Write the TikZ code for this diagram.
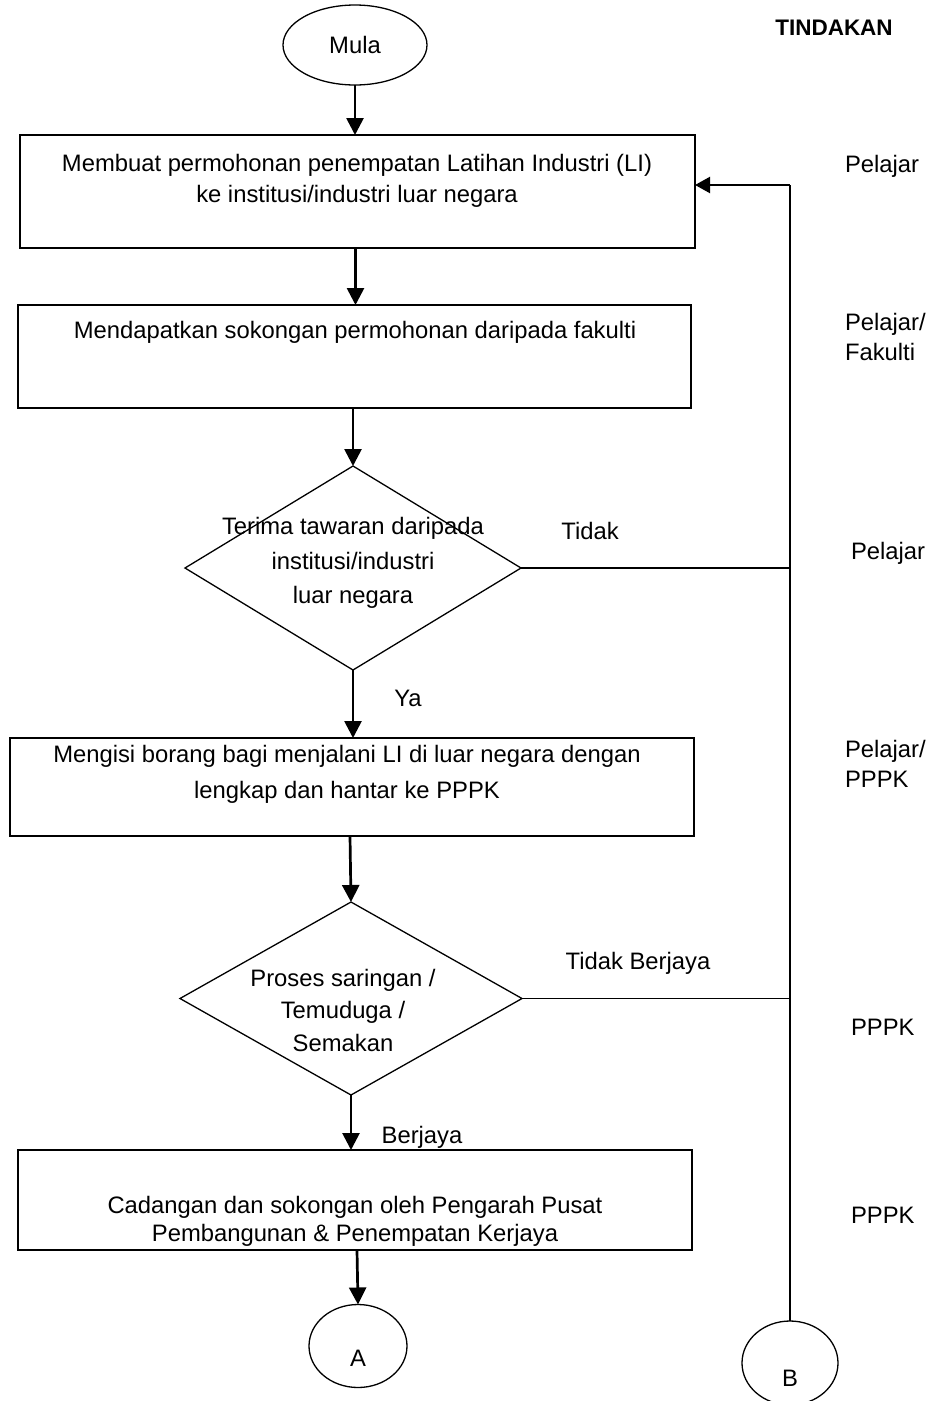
\documentclass[tikz,border=0pt]{standalone}
\usepackage{fontspec}
\setmainfont{Liberation Sans}
\usetikzlibrary{shapes.geometric,arrows.meta}
\begin{document}
\begin{tikzpicture}[x=1pt,y=-1pt,
  every node/.style={inner sep=0pt, outer sep=0pt},
  txt/.style={font=\fontsize{23.8}{31}\selectfont, align=center},
  boxnode/.style={draw, line width=1.3pt, rectangle},
  dec/.style={draw, line width=1.3pt, diamond},
  term/.style={draw, line width=1.3pt, ellipse},
  flow/.style={line width=2.7pt, -{Triangle[length=17pt,width=17pt]}},
  back/.style={line width=1.6pt},
  backarrow/.style={line width=2.2pt, -{Triangle[length=15pt,width=16pt]}}]
\useasboundingbox (0,0) rectangle (932,1401);

% terminals
\node[term, minimum width=144pt, minimum height=80pt] (mula) at (355,45) {};
\node[txt] (tmula) at (355,45) {Mula};

% boxes
\node[boxnode, minimum width=675pt, minimum height=113pt] (b1) at (357.5,191.5) {};
\node[txt] (t1) at (357,181) {Membuat permohonan penempatan Latihan Industri (LI)\\ke institusi/industri luar negara};

\node[boxnode, minimum width=673pt, minimum height=103pt] (b2) at (354.5,356.5) {};
\node[txt] (t2) at (355,332) {Mendapatkan sokongan permohonan daripada fakulti};

\node[dec, minimum width=336pt, minimum height=204pt] (d1) at (353,568) {};
\node[txt, font=\fontsize{23.8}{34.5}\selectfont] (td1) at (353,563) {Terima tawaran daripada\\institusi/industri\\luar negara};

\node[boxnode, minimum width=684pt, minimum height=98pt] (b3) at (352,787) {};
\node[txt, font=\fontsize{23.8}{36}\selectfont] (t3) at (347,774) {Mengisi borang bagi menjalani LI di luar negara dengan\\lengkap dan hantar ke PPPK};

\node[dec, minimum width=342pt, minimum height=193pt] (d2) at (351,998.5) {};
\node[txt, font=\fontsize{23.8}{32.5}\selectfont] (td2) at (343,1010) {Proses saringan /\\Temuduga /\\Semakan};

\node[boxnode, minimum width=674pt, minimum height=100pt] (b4) at (355,1200) {};
\node[txt, font=\fontsize{23.8}{28}\selectfont] (t4) at (355,1221) {Cadangan dan sokongan oleh Pengarah Pusat\\Pembangunan \& Penempatan Kerjaya};

\node[term, minimum width=98pt, minimum height=83pt] (A) at (358,1346) {};
\node[txt] (tA) at (358,1358) {A};
\node[term, minimum width=96pt, minimum height=84pt] (B) at (790,1363) {};
\node[txt] (tB) at (790,1378) {B};

% labels on connectors
\node[txt] (ltidak) at (590,531) {Tidak};
\node[txt] (lya) at (408,698) {Ya};
\node[txt] (ltb) at (638,963) {Tidak Berjaya};
\node[txt] (lb) at (422,1137) {Berjaya};

% right column
\node[txt, font=\bfseries\fontsize{22.5}{27}\selectfont] (tind) at (834,28) {TINDAKAN};
\node[txt, anchor=west] (r1) at (845,166) {Pelajar};
\node[txt, anchor=west, align=left, font=\fontsize{23.8}{30}\selectfont] (r2) at (845,337) {Pelajar/\\Fakulti};
\node[txt, anchor=west] (r3) at (851,553) {Pelajar};
\node[txt, anchor=west, align=left, font=\fontsize{23.8}{30}\selectfont] (r4) at (845,764) {Pelajar/\\PPPK};
\node[txt, anchor=west] (r5) at (851,1027) {PPPK};
\node[txt, anchor=west] (r6) at (851,1215) {PPPK};

% main flow
\draw[flow] (mula.south) -- (mula.south |- b1.north);
\draw[flow] ([xshift=-2pt]b1.south) -- ([xshift=-2pt]b1.south |- b2.north);
\draw[flow] ([xshift=-1.5pt]b2.south) -- (d1.north);
\draw[flow] (d1.south) -- (d1.south |- b3.north);
\draw[flow] ([xshift=-2pt]b3.south) -- (d2.north);
\draw[flow] (d2.south) -- (d2.south |- b4.north);
\draw[flow] ([xshift=2pt]b4.south) -- (A.north);

% return loop
\coordinate (ret) at (790,185);
\draw[back] (d1.east) -- (d1.east -| ret);
\draw[back] (d2.east) -- (d2.east -| ret);
\draw[back] (B.north) -- (ret);
\draw[backarrow] (ret) -- (b1.east |- ret);
\end{tikzpicture}
\end{document}
